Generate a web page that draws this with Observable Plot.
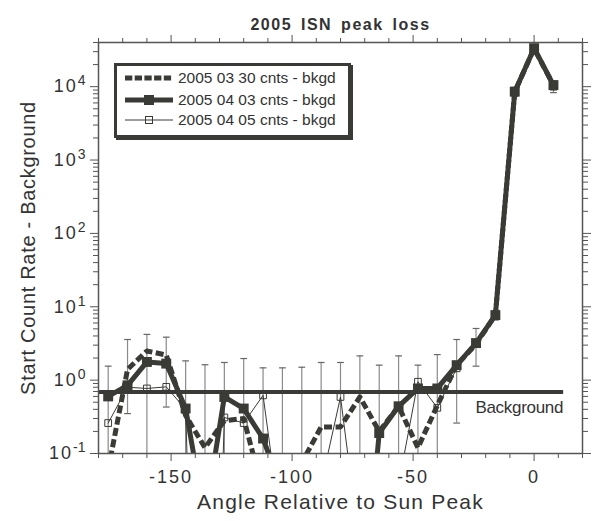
<!DOCTYPE html>
<html><head><meta charset="utf-8">
<script src="https://cdn.jsdelivr.net/npm/d3@7"></script>
<script src="https://cdn.jsdelivr.net/npm/@observablehq/plot@0.6"></script>
<style>
body{margin:0;background:#fff;font-family:"Liberation Sans",Arial,sans-serif;}
#wrap{position:relative;width:595px;height:521px;overflow:hidden;}
#legend{position:absolute;left:114px;top:63px;width:231px;height:69px;border:3px solid #3a3a36;box-shadow:2px 2px 0 #3a3a36;background:#fff;}
.row{position:absolute;left:0;height:20px;display:flex;align-items:center;}
.row svg{display:block;margin-left:8px;}
.row span{margin-left:5px;font-size:15.5px;color:#333;white-space:nowrap;letter-spacing:0px;}
</style></head><body><div id="wrap"></div>
<script>
// ---- data ----
const title = "2005 ISN peak loss";
const xLabel = "Angle Relative to Sun Peak";
const yLabel = "Start Count Rate - Background";
const seriesNames = ["2005 03 30 cnts - bkgd", "2005 04 03 cnts - bkgd", "2005 04 05 cnts - bkgd"];
const angles   = [-176,-168,-160,-152,-144,-136,-128,-120,-112,-104,-96,-88,-80,-72,-64,-56,-48,-40,-32,-24,-16,-8,0,8];
const cnts0330 = [0.06,1.4,2.5,2.2,0.33,0.12,0.28,0.3,0.03,0.01,0.075,0.23,0.23,0.59,0.2,0.44,0.12,0.45,1.6,3.1,7.7,8500,33000,10500];
const cnts0403 = [0.6,0.85,1.77,1.68,0.41,0.013,0.59,0.41,0.16,0.03,0.01,0.01,0.01,0.0003,0.19,0.44,0.77,0.77,1.6,3.2,7.7,8550,33500,10500];
const cnts0405 = [0.26,0.8,0.77,0.81,0.4,1e-9,0.31,0.26,0.62,0.007,0.003,0.038,0.59,0.005,0.0005,0.038,0.95,0.42,1.45,3.1,7.5,8500,33000,10000];
const errHigh  = [1.55,3.58,4.2,3.85,1.83,1.62,1.74,1.97,1.47,1.47,1.5,1.74,1.74,2.14,1.6,2.14,1.6,2.23,3.58,5.06,8.6,9800,36000,12000];
const errLow   = [null,0.35,null,0.43,null,null,null,null,null,null,null,null,null,null,null,null,null,null,0.26,1.55,6.6,7400,30000,8300];
const bkgdLevel = 0.69;
const bkgdAngles = [-180, 12];
const bkgdLabel = "Background";
const xMajorTicks = [-150, -100, -50, 0];
const yMajorTicks = [0.1, 1, 10, 100, 1000, 10000];

// ---- setup ----
const ink = "#3a3a36";
const axisInk = "#555";
const xDomain = [-180, 20];
const yDomain = [0.1, 40000];
const capHalf = 1.4;
const rows = angles.map((a, i) => ({angle: a, s0330: cnts0330[i], s0403: cnts0403[i], s0405: cnts0405[i], hi: errHigh[i], lo: errLow[i]}));
const bkgd = bkgdAngles.map(a => ({angle: a, level: bkgdLevel}));
const minorY = [];
for (let e = -1; e <= 4; e++) for (let m = 2; m <= 9; m++) { const v = m * Math.pow(10, e); if (v <= yDomain[1]) minorY.push(v); }
const minorX = d3.range(xDomain[0], xDomain[1] + 1, 10).filter(v => !xMajorTicks.includes(v));
const fontFam = "Liberation Sans, Arial, sans-serif";
const blank = () => "";

const chart = Plot.plot({
  width: 595, height: 521,
  marginTop: 42, marginBottom: 68, marginLeft: 98, marginRight: 13,
  style: {fontFamily: fontFam, color: "#333", background: "#fff", overflow: "visible"},
  x: {domain: xDomain},
  y: {type: "log", domain: yDomain},
  marks: [
    // error bars
    Plot.ruleX(rows, {x: "angle", y1: d => d.lo ?? yDomain[0], y2: "hi", stroke: "#8a8a8a", strokeWidth: 1.2, clip: true}),
    Plot.link(rows, {x1: d => d.angle - capHalf, x2: d => d.angle + capHalf, y1: "hi", y2: "hi", stroke: "#666", strokeWidth: 1.2, clip: true}),
    Plot.link(rows.filter(d => d.lo != null), {x1: d => d.angle - capHalf, x2: d => d.angle + capHalf, y1: "lo", y2: "lo", stroke: "#666", strokeWidth: 1.2, clip: true}),
    // background
    Plot.line(bkgd, {x: "angle", y: "level", stroke: ink, strokeWidth: 4, strokeLinecap: "butt"}),
    Plot.text(bkgd.slice(1), {x: "angle", y: "level", text: () => bkgdLabel, textAnchor: "end", dy: 16, fontSize: 17, fill: "#333"}),
    // series (dashed one is clipped afterwards with a nested svg viewport)
    Plot.line(rows, {x: "angle", y: "s0330", stroke: ink, strokeWidth: 5, strokeDasharray: "8,3.5", strokeLinecap: "butt", strokeLinejoin: "round"}),
    Plot.line(rows, {x: "angle", y: "s0403", stroke: ink, strokeWidth: 5, strokeLinejoin: "round", clip: true}),
    Plot.dot(rows, {x: "angle", y: "s0403", symbol: "square", r: 5.6, fill: ink, stroke: "none", clip: true}),
    Plot.line(rows, {x: "angle", y: "s0405", stroke: ink, strokeWidth: 1, clip: true}),
    Plot.dot(rows, {x: "angle", y: "s0405", symbol: "square", r: 3.8, fill: "none", stroke: ink, strokeWidth: 1, clip: true}),
    // axes
    Plot.axisX({anchor: "bottom", ticks: xMajorTicks, tickSize: 8, tickPadding: 9, tickFormat: d => String(d), fontSize: 18, stroke: axisInk, fill: "#333", label: null}),
    Plot.axisX({anchor: "bottom", ticks: minorX, tickSize: 5, tickFormat: blank, stroke: axisInk, label: null}),
    Plot.axisX({anchor: "top", ticks: xMajorTicks, tickSize: 8, tickFormat: blank, stroke: axisInk, label: null}),
    Plot.axisX({anchor: "top", ticks: minorX, tickSize: 5, tickFormat: blank, stroke: axisInk, label: null}),
    Plot.axisY({anchor: "left", ticks: yMajorTicks, tickSize: 8, tickPadding: 5, tickFormat: d => "10^" + Math.round(Math.log10(d)), fontSize: 18, stroke: axisInk, fill: "#333", label: null}),
    Plot.axisY({anchor: "left", ticks: minorY, tickSize: 5, tickFormat: blank, stroke: axisInk, label: null}),
    Plot.axisY({anchor: "right", ticks: yMajorTicks, tickSize: 8, tickFormat: blank, stroke: axisInk, label: null}),
    Plot.axisY({anchor: "right", ticks: minorY, tickSize: 5, tickFormat: blank, stroke: axisInk, label: null}),
    Plot.frame({stroke: axisInk, strokeWidth: 1.5}),
    // titles
    Plot.text([title], {frameAnchor: "top", dy: -24, fontSize: 16, fontWeight: "bold", fill: "#333"}),
    Plot.text([xLabel], {frameAnchor: "bottom", dy: 55, fontSize: 21, fill: "#333"}),
    Plot.text([yLabel], {frameAnchor: "left", dx: -70, rotate: -90, textAnchor: "middle", fontSize: 20, fill: "#333"})
  ]
});
document.getElementById("wrap").appendChild(chart);

// clip the dashed series to the frame using a nested svg viewport
{
  const xr = chart.scale("x").range, yr = chart.scale("y").range;
  const x0 = Math.min(...xr), x1 = Math.max(...xr), y0 = Math.min(...yr), y1 = Math.max(...yr);
  const lines = chart.querySelectorAll('g[aria-label="line"]');
  const dashedG = lines[1];
  const ns = "http://www.w3.org/2000/svg";
  const vp = document.createElementNS(ns, "svg");
  vp.setAttribute("x", x0); vp.setAttribute("y", y0);
  vp.setAttribute("width", x1 - x0); vp.setAttribute("height", y1 - y0);
  vp.setAttribute("viewBox", `${x0} ${y0} ${x1 - x0} ${y1 - y0}`);
  vp.setAttribute("overflow", "hidden");
  dashedG.parentNode.insertBefore(vp, dashedG);
  vp.appendChild(dashedG);
}

// text tracking (letter spacing) to match the reference typography
const tracking = new Map([[title, "letter-spacing:1.5px;word-spacing:3px"], [xLabel, "letter-spacing:1.2px"], [yLabel, "letter-spacing:0.7px"], [bkgdLabel, "letter-spacing:-0.3px"]]);
d3.select(chart).selectAll("text").each(function() {
  const s = tracking.get(this.textContent);
  if (s) this.setAttribute("style", (this.getAttribute("style") || "") + ";" + s);
});
d3.select(chart).selectAll('g[aria-label="x-axis tick label"] text').style("letter-spacing", "2px");
d3.select(chart).selectAll('g[aria-label="y-axis tick label"] text').each(function() {
  const t = this.textContent;
  const m = /^10\^(-?\d+)$/.exec(t);
  if (!m) return;
  const sel = d3.select(this);
  sel.text("");
  sel.append("tspan").text("10").style("letter-spacing", "2px");
  sel.append("tspan").attr("dy", "-0.5em").attr("font-size", "14px").text(m[1]);
});

// legend
const legend = document.createElement("div");
legend.id = "legend";
const swatchSvgs = [
  `<svg width="48" height="20"><line x1="0" y1="10" x2="48" y2="10" stroke="${ink}" stroke-width="5" stroke-dasharray="7.3,2.4"/></svg>`,
  `<svg width="48" height="20"><line x1="0" y1="10" x2="48" y2="10" stroke="${ink}" stroke-width="5"/><rect x="19" y="5" width="10" height="10" fill="${ink}"/></svg>`,
  `<svg width="48" height="20"><line x1="0" y1="10" x2="48" y2="10" stroke="${ink}" stroke-width="1"/><rect x="20.5" y="6.5" width="7" height="7" fill="none" stroke="${ink}" stroke-width="1"/></svg>`
];
const rowTops = [2, 23.5, 44];
seriesNames.forEach((name, i) => {
  const r = document.createElement("div");
  r.className = "row";
  r.style.top = rowTops[i] + "px";
  r.innerHTML = swatchSvgs[i] + `<span>${name}</span>`;
  legend.appendChild(r);
});
document.getElementById("wrap").appendChild(legend);
</script>
</body></html>
